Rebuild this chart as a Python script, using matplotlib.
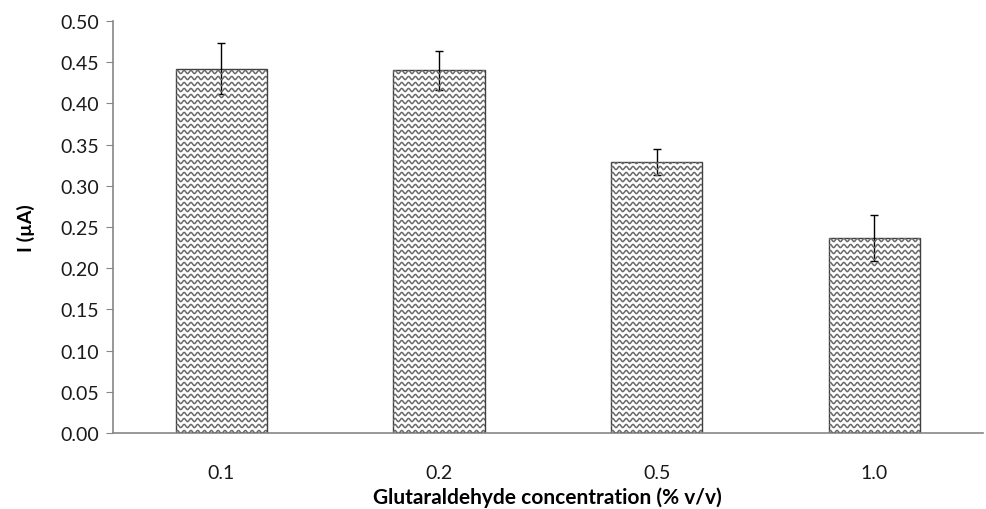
import numpy as np
import matplotlib
matplotlib.use("Agg")
import matplotlib.pyplot as plt
from matplotlib.transforms import IdentityTransform

# data
concentrations = ["0.1", "0.2", "0.5", "1.0"]
current = [0.442, 0.440, 0.329, 0.237]
current_err = [0.031, 0.024, 0.016, 0.028]

plt.rcParams['font.family'] = ['Lato', 'DejaVu Sans']

fig = plt.figure(figsize=(9.87, 5.10), dpi=100)
ax = fig.add_axes([0.114, 0.149, 0.882, 0.808])

x = np.arange(len(concentrations))
bars = ax.bar(x, current, width=0.42, color="white", edgecolor="#3f3f3f",
              linewidth=1.0, zorder=2)
ax.errorbar(x, current, yerr=current_err, fmt="none", ecolor="black",
            elinewidth=1.0, capsize=3, capthick=1.0, zorder=4)

ax.set_xlim(-0.5, len(concentrations) - 0.5)
ax.set_ylim(0, 0.5)
ax.set_yticks(np.arange(0, 0.501, 0.05))
ax.yaxis.set_major_formatter(plt.FormatStrFormatter("%.2f"))
ax.set_xticks(x)
ax.set_xticklabels(concentrations)

for side in ["top", "right"]:
    ax.spines[side].set_visible(False)
for side in ["left", "bottom"]:
    ax.spines[side].set_color("#868686")
    ax.spines[side].set_linewidth(1.2)
ax.tick_params(axis="y", direction="out", length=5, color="#868686",
               labelsize=14, pad=5, labelcolor="#1a1a1a")
ax.tick_params(axis="x", length=0, labelsize=14, pad=22, labelcolor="#1a1a1a")

ax.set_xlabel("Glutaraldehyde concentration (% v/v)", fontsize=15,
              fontweight="bold", labelpad=4)
ax.set_ylabel("I (µA)", fontsize=14, fontweight="bold", labelpad=18)

# wavy hatch drawn in pixel space and clipped to each bar
fig.canvas.draw()
spacing = 6.0
period = 6.8
amp = 1.6
for bar in bars:
    bb = bar.get_window_extent()
    xs = np.arange(bb.x0 - period, bb.x1 + period, 0.5)
    y = bb.y0 + 1
    while y < bb.y1 + spacing:
        ys = y + amp * np.sin(2 * np.pi * (xs - bb.x0) / period)
        line = plt.Line2D(xs, ys, transform=IdentityTransform(),
                          color="#6a6a6a", linewidth=1.1, zorder=2.5)
        line.set_clip_path(bar)
        fig.add_artist(line)
        y += spacing

fig.savefig("out.png", dpi=100)
